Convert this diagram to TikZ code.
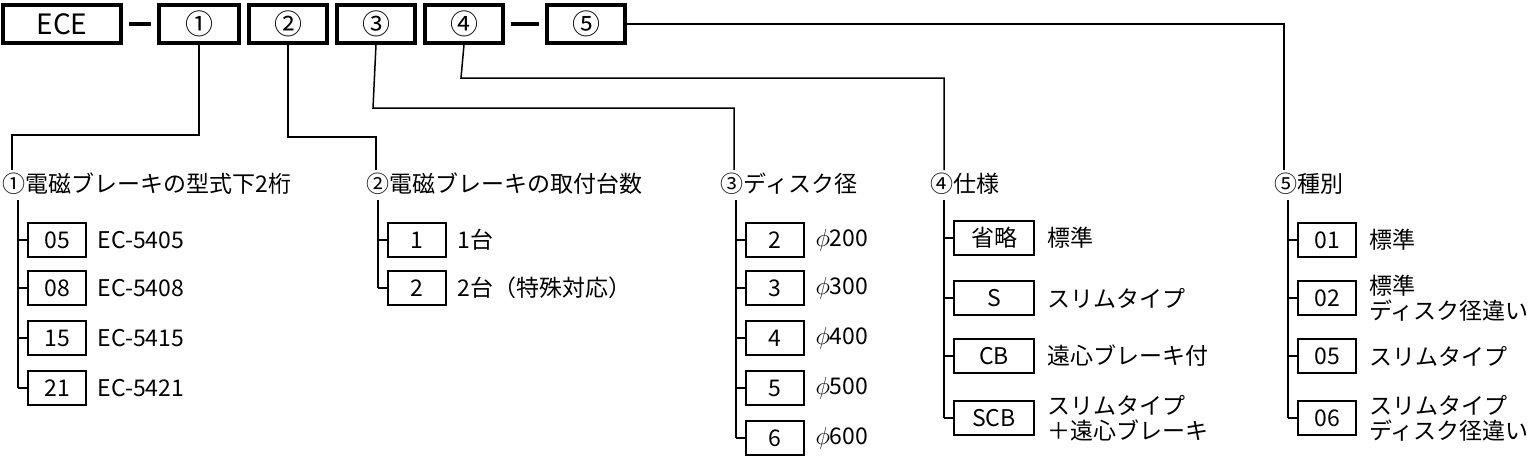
\documentclass[tikz,border=0pt]{standalone}
\usepackage{fontspec}
\setmainfont{Noto Sans CJK JP}
\usetikzlibrary{positioning}
\begin{document}
\begin{tikzpicture}[x=1pt,y=-1pt,line width=1.5pt,
  font=\fontsize{23}{26}\selectfont]
  \tikzset{codebox/.style={draw,line width=3.5pt,minimum height=38pt,inner sep=0pt,font=\fontsize{28}{30}\selectfont},
    itembox/.style={draw,line width=1.5pt,minimum height=34pt,minimum width=58pt,inner sep=0pt},
    itemlabel/.style={anchor=west,align=left,inner sep=0pt,font=\fontsize{23}{25}\selectfont},
    heading/.style={anchor=west,inner sep=0pt}}
  \useasboundingbox (0,0) rectangle (1536,458);
  % code row
  \node[codebox,minimum width=118pt] (ece) at (62,24) {ECE};
  \node[codebox,minimum width=80pt] (k1) at (199,24) {①};
  \node[codebox,minimum width=78pt] (k2) at (288,24) {②};
  \node[codebox,minimum width=78pt] (k3) at (376,24) {③};
  \node[codebox,minimum width=78pt] (k4) at (464,24) {④};
  \node[codebox,minimum width=78pt] (k5) at (586,24) {⑤};
  \draw[line width=4pt] (ece.east) ++(6,0) -- ([xshift=-6pt]k1.west);
  \draw[line width=4pt] (k4.east) ++(6,0) -- ([xshift=-6pt]k5.west);
  % headings
  \node[heading] (h1) at (2,184) {①電磁ブレーキの型式下2桁};
  \node[heading] (h2) at (366,184) {②電磁ブレーキの取付台数};
  \node[heading] (h3) at (720,184) {③ディスク径};
  \node[heading] (h4) at (930,184) {④仕様};
  \node[heading] (h5) at (1274,184) {⑤種別};
  % leaders
  \draw (k1.south) -- (199,135) -- (12,135) -- (12,170);
  \draw (k2.south) -- (288,137) -- (376,137) -- (376,170);
  \draw (k3.south) -- (373,108) -- (734,108) -- (734,170);
  \draw (k4.south) -- (461,78) -- (944,78) -- (944,170);
  \draw (k5.east) -- (1284,24) -- (1284,170);
  % column 1
  \foreach \t/\l/\y [count=\i] in {05/EC-5405/240,08/EC-5408/288,15/EC-5415/338,21/EC-5421/388}{
    \node[itembox] (a\i) at (57,\y) {\t};
    \node[itemlabel,right=10pt of a\i] (al\i) {\l};
    \draw (18,\y) -- (a\i.west);}
  \draw (18,200) -- (18,388);
  % column 2
  \foreach \t/\l/\y [count=\i] in {1/1台/240,2/2台（特殊対応）/288}{
    \node[itembox] (b\i) at (417,\y) {\t};
    \node[itemlabel,right=10pt of b\i] (bl\i) {\l};
    \draw (378,\y) -- (b\i.west);}
  \draw (378,200) -- (378,288);
  % column 3
  \foreach \t/\y [count=\i] in {2/240,3/288,4/338,5/388,6/438}{
    \node[itembox] (c\i) at (775,\y) {\t};
    \node[itemlabel,right=10pt of c\i] (cl\i) {$\phi$\t00};
    \draw (736,\y) -- (c\i.west);}
  \draw (736,200) -- (736,438);
  % column 4
  \foreach \t/\l/\y [count=\i] in {省略/標準/238,S/スリムタイプ/298,CB/遠心ブレーキ付/356,SCB/{スリムタイプ\\＋遠心ブレーキ}/418}{
    \node[itembox,minimum width=80pt] (d\i) at (994,\y) {\t};
    \node[itemlabel,right=12pt of d\i] (dl\i) {\l};
    \draw (944,\y) -- (d\i.west);}
  \draw (944,200) -- (944,418);
  % column 5
  \foreach \t/\l/\y [count=\i] in {01/標準/240,02/{標準\\ディスク径違い}/298,05/スリムタイプ/356,06/{スリムタイプ\\ディスク径違い}/418}{
    \node[itembox] (e\i) at (1327,\y) {\t};
    \node[itemlabel,right=12pt of e\i] (el\i) {\l};
    \draw (1288,\y) -- (e\i.west);}
  \draw (1288,200) -- (1288,418);
\end{tikzpicture}
\end{document}
